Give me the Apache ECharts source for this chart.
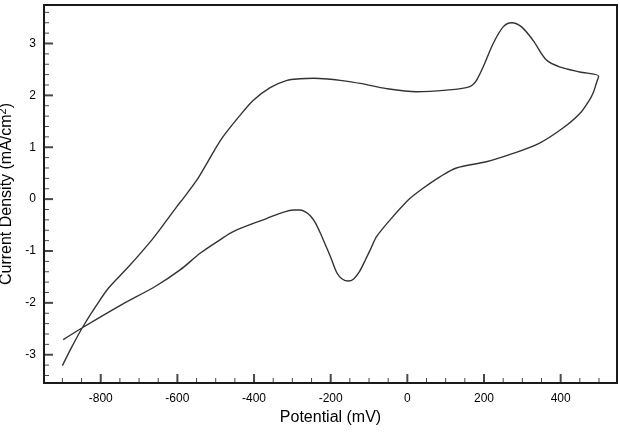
<!DOCTYPE html>
<html lang="en">
<head>
    <meta charset="UTF-8">
    <title>Cyclic voltammogram</title>
    <style>
        html, body { margin: 0; padding: 0; background: #fff; }
        #cv { width: 620px; height: 440px; }
    </style>
</head>
<body>
<div id="cv"></div>
<script src="https://cdn.jsdelivr.net/npm/echarts@6/dist/echarts.min.js"></script>
<script>
    // forward scan (negative -> positive), potential in mV, current density in mA/cm2
    var fwdPotential = [-900, -874, -848, -813, -779, -727, -666, -630, -601, -584, -549, -523, -484, -436, -401, -358, -314, -280, -245, -200, -175, -123, -54, 24, 102, 154, 170, 182, 198, 224, 250, 272, 298, 328, 363, 397, 450, 499];
    var fwdCurrent   = [-3.21, -2.83, -2.48, -2.07, -1.71, -1.30, -0.78, -0.43, -0.14, 0.02, 0.37, 0.69, 1.17, 1.62, 1.91, 2.15, 2.29, 2.32, 2.33, 2.31, 2.29, 2.23, 2.13, 2.07, 2.10, 2.15, 2.20, 2.31, 2.55, 3.00, 3.32, 3.40, 3.32, 3.06, 2.68, 2.55, 2.45, 2.37];

    // reverse scan (positive -> negative)
    var revPotential = [499, 493, 485, 475, 450, 406, 345, 276, 206, 128, 85, 41, 5, -45, -80, -95, -110, -125, -140, -154, -170, -184, -200, -215, -228, -240, -252, -265, -280, -297, -330, -366, -453, -488, -540, -592, -657, -744, -848, -898];
    var revCurrent   = [2.37, 2.23, 2.05, 1.91, 1.65, 1.37, 1.08, 0.88, 0.72, 0.60, 0.43, 0.21, 0.00, -0.40, -0.72, -0.95, -1.18, -1.40, -1.54, -1.58, -1.54, -1.42, -1.12, -0.86, -0.64, -0.46, -0.33, -0.25, -0.21, -0.21, -0.27, -0.37, -0.62, -0.78, -1.04, -1.36, -1.68, -2.03, -2.48, -2.71];

    // tick positions
    var xMajorTicks = [-800, -600, -400, -200, 0, 200, 400];
    var xMinorTicks = [-900, -850, -750, -700, -650, -550, -500, -450, -350, -300, -250, -150, -100, -50, 50, 100, 150, 250, 300, 350, 450, 500];
    var yMajorTicks = [-3, -2, -1, 0, 1, 2, 3];
    var yMinorTicks = [-3.4, -3.2, -2.8, -2.6, -2.4, -2.2, -1.8, -1.6, -1.4, -1.2, -0.8, -0.6, -0.4, -0.2, 0.2, 0.4, 0.6, 0.8, 1.2, 1.4, 1.6, 1.8, 2.2, 2.4, 2.6, 2.8, 3.2, 3.4, 3.6];

    var xMin = -948, xMax = 547;
    var yMin = -3.545, yMax = 3.742;

    var font = 'Liberation Sans, Arial, Helvetica, sans-serif';
    var ink = '#1a1a1a';

    // one continuous loop
    var loop = [];
    for (var i = 0; i < fwdPotential.length; i++) {
        loop.push([fwdPotential[i], fwdCurrent[i]]);
    }
    for (var j = 1; j < revPotential.length; j++) {
        loop.push([revPotential[j], revCurrent[j]]);
    }

    // axis ticks did not show up at the frame edge, so the tick marks are drawn
    // as small rect symbols sitting on the axis lines (placed by the axis scales)
    function onBottom(vals) {
        return vals.map(function (v) { return [v, yMin]; });
    }
    function onLeft(vals) {
        return vals.map(function (v) { return [xMin, v]; });
    }
    function tickMarks(data, size, offset) {
        return {
            type: 'scatter',
            data: data,
            symbol: 'rect',
            symbolSize: size,
            symbolOffset: offset,
            itemStyle: { color: ink },
            silent: true,
            clip: false,
            z: 4,
            emphasis: { disabled: true }
        };
    }

    var option = {
        animation: false,
        grid: {
            left: 44,
            right: 3,
            top: 5,
            bottom: 57,
            outerBoundsMode: 'none',
            show: true,
            borderColor: ink,
            borderWidth: 2
        },
        xAxis: {
            type: 'value',
            min: xMin,
            max: xMax,
            position: 'bottom',
            name: 'Potential (mV)',
            nameLocation: 'middle',
            nameGap: 22,
            nameTextStyle: { fontFamily: font, fontSize: 16, color: '#000' },
            axisLine: { show: true, onZero: false, lineStyle: { color: ink, width: 2 } },
            axisTick: { show: false },
            axisLabel: { customValues: xMajorTicks, margin: 10, fontFamily: font, fontSize: 12, color: '#000' },
            splitLine: { show: false }
        },
        yAxis: {
            type: 'value',
            min: yMin,
            max: yMax,
            position: 'left',
            name: 'Current Density (mA/cm{sup|2})',
            nameLocation: 'middle',
            nameGap: 24,
            nameTextStyle: {
                fontFamily: font, fontSize: 16, color: '#000',
                rich: {
                    sup: { fontFamily: font, fontSize: 11, color: '#000', verticalAlign: 'bottom', padding: [0, 0, 7, 0] }
                }
            },
            axisLine: { show: true, onZero: false, lineStyle: { color: ink, width: 2 } },
            axisTick: { show: false },
            axisLabel: { customValues: yMajorTicks, margin: 8, fontFamily: font, fontSize: 12, color: '#000' },
            splitLine: { show: false }
        },
        series: [{
            type: 'line',
            data: loop,
            showSymbol: false,
            smooth: 0.3,
            lineStyle: { color: '#333', width: 1.4 }
        },
            tickMarks(onBottom(xMajorTicks), [2, 9], [0, -4.5]),
            tickMarks(onBottom(xMinorTicks), [1, 5], [0, -2.5]),
            tickMarks(onLeft(yMajorTicks), [9, 2], [4.5, 0]),
            tickMarks(onLeft(yMinorTicks), [5, 1], [2.5, 0])
        ]
    };

    var myChart = echarts.init(document.getElementById('cv'));
    myChart.setOption(option);
</script>
</body>
</html>
